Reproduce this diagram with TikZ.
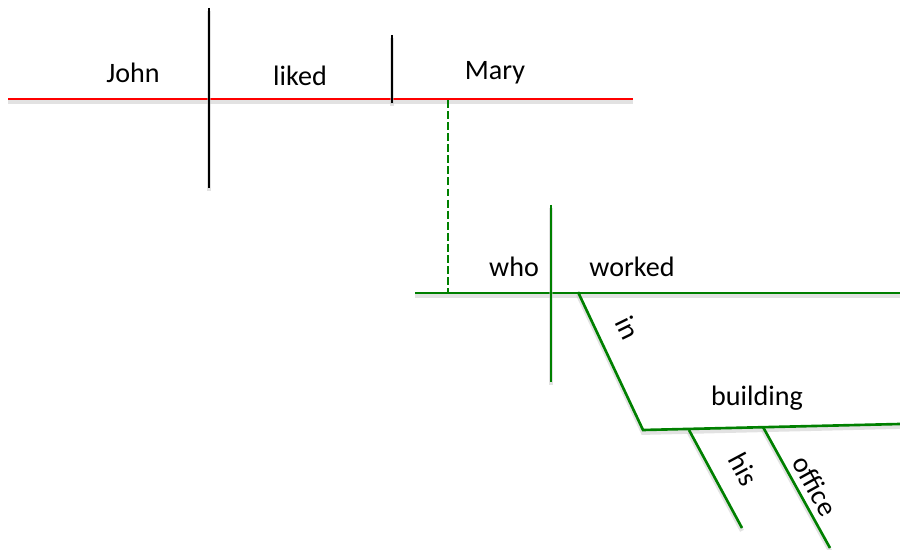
\documentclass[tikz,border=0pt]{standalone}
\usepackage{fontspec}
\setmainfont{Carlito}
\usepackage{tikz}
\usetikzlibrary{positioning}
\definecolor{dgred}{RGB}{255,0,0}
\definecolor{dggreen}{RGB}{0,128,0}

\begin{document}
\begin{tikzpicture}[x=0.02cm, y=-0.02cm,
  word/.style={font=\fontsize{16}{19}\selectfont, text=black, inner sep=1pt},
  shade line/.style={preaction={draw=black!25, opacity=0.45, line width=2.4pt, transform canvas={yshift=-1.6pt}}},
  mainline/.style={draw=dgred, line width=1.5pt, shade line},
  subline/.style={draw=dggreen, line width=1.5pt, shade line},
  divider/.style={draw=black, line width=1.5pt, shade line},
  gdivider/.style={draw=dggreen, line width=1.5pt, shade line},
  linkline/.style={draw=dggreen, line width=1.5pt, dash pattern=on 4.5pt off 1.8pt}
]
  \useasboundingbox (0,0) rectangle (900,550);
  %% main clause
  \coordinate (mainL) at (8,99);
  \coordinate (mainR) at (633,99);
  \coordinate (subjT) at (209,8);
  \coordinate (subjB) at (209,188);
  \coordinate (verbT) at (392,35);
  \coordinate (verbB) at (392,103);
  \draw[mainline] (mainL) -- (mainR);
  \draw[divider] (subjT) -- (subjB);
  \draw[divider] (verbT) -- (verbB);
  \node[word] (john) at (133,73) {John};
  \node[word] (liked) at (300,76) {liked};
  \node[word] (mary) at (495,73) {Mary};
  %% relative clause
  \coordinate (relL) at (415,293);
  \coordinate (relR) at (900,293);
  \coordinate (linkT) at (448,100);
  \coordinate (linkB) at (448,292);
  \coordinate (rsubjT) at (551,205);
  \coordinate (rsubjB) at (551,382);
  \draw[subline] (relL) -- (relR);
  \draw[linkline] (linkT) -- (linkB);
  \draw[gdivider] (rsubjT) -- (rsubjB);
  \node[word] (who) at (514,267) {who};
  \node[word] (worked) at (632,267) {worked};
  %% prepositional phrase
  \coordinate (inT) at (578,292);
  \coordinate (inB) at (643,430);
  \coordinate (objR) at (900,424);
  \draw[subline] (inT) -- (inB) -- (objR);
  \node[word, rotate=-64] (in) at (628,328) {in};
  \node[word] (building) at (757,398) {building};
  %% modifiers
  \coordinate (hisT) at (689,430);
  \coordinate (hisB) at (742,528);
  \coordinate (offT) at (763,427);
  \coordinate (offB) at (830,548);
  \draw[subline] (hisT) -- (hisB);
  \draw[subline] (offT) -- (offB);
  \node[word, rotate=-62] (his) at (744,469) {his};
  \node[word, rotate=-61] (office) at (815,486) {office};
\end{tikzpicture}
\end{document}
